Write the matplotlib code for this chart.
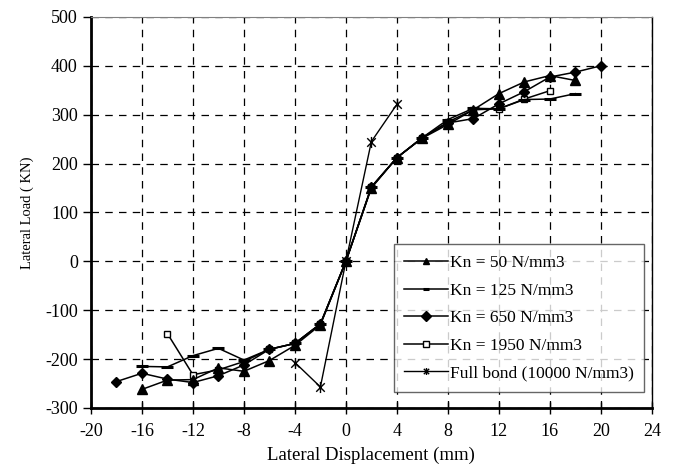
import numpy as np
import matplotlib
matplotlib.use("Agg")
import matplotlib.pyplot as plt
from matplotlib.path import Path

plt.rcParams['font.family'] = ['Liberation Serif', 'DejaVu Serif']
plt.rcParams['axes.unicode_minus'] = False

# data
x50 = [-16, -14, -12, -10, -8, -6, -4, -2, 0, 2, 4, 6, 8, 10, 12, 14, 16, 18]
y50 = [-262, -243, -242, -218, -225, -203, -172, -130, 0, 150, 212, 252, 280, 310, 343, 367, 380, 370]

x125 = [-16, -14, -12, -10, -8, -6, -4, -2, 0, 2, 4, 6, 8, 10, 12, 14, 16, 18]
y125 = [-215, -216, -193, -178, -202, -180, -168, -128, 0, 152, 212, 253, 290, 313, 312, 331, 332, 343]

x650 = [-18, -16, -14, -12, -10, -8, -6, -4, -2, 0, 2, 4, 6, 8, 10, 12, 14, 16, 18, 20]
y650 = [-246, -229, -241, -248, -234, -212, -180, -168, -128, 0, 152, 212, 253, 283, 292, 322, 347, 377, 387, 400]

x1950 = [-14, -12, -10, -8, -6, -4, -2, 0, 2, 4, 6, 8, 10, 12, 14, 16]
y1950 = [-148, -232, -222, -205, -180, -168, -128, 0, 152, 212, 253, 285, 310, 312, 332, 349]

xfull = [-4, -2, 0, 2, 4]
yfull = [-207, -257, 0, 245, 321]

# star marker: x with a vertical bar
star = Path([(-1, -1), (1, 1), (-1, 1), (1, -1), (0, -1.3), (0, 1.3)],
            [Path.MOVETO, Path.LINETO, Path.MOVETO, Path.LINETO, Path.MOVETO, Path.LINETO])

fig = plt.figure(figsize=(6.74, 4.70), dpi=100)
ax = fig.add_axes([0.135, 0.132, 0.832, 0.832])

lw = 1.1
ax.plot(x50, y50, color='black', lw=lw, marker='^', ms=7, zorder=2.5, label='Kn = 50 N/mm3')
ax.plot(x125, y125, color='black', lw=lw, marker='_', ms=8, mew=2.2, zorder=2.4, label='Kn = 125 N/mm3')
ax.plot(x650, y650, color='black', lw=lw, marker='D', ms=5.5, zorder=2.3, label='Kn = 650 N/mm3')
ax.plot(x1950, y1950, color='black', lw=lw, marker='s', ms=4, mfc='white', mew=1, zorder=2.2, label='Kn = 1950 N/mm3')
ax.plot(xfull, yfull, color='black', lw=1.0, marker=star, ms=8, mew=1, zorder=2.1, label='Full bond (10000 N/mm3)')

ax.set_xlim(-20, 24)
ax.set_ylim(-300, 500)
ax.set_xticks(np.arange(-20, 25, 4))
ax.set_yticks(np.arange(-300, 501, 100))
ax.grid(True, color='black', linestyle=(0, (6, 5)), lw=0.9)

ax.spines['top'].set_color('#808080')
ax.spines['top'].set_linewidth(0.8)
ax.spines['right'].set_linewidth(1.0)
for s in ['left', 'bottom']:
    ax.spines[s].set_linewidth(2)
ax.tick_params(axis='x', direction='inout', length=9, width=1, labelsize=13, pad=6)
ax.tick_params(axis='y', direction='out', length=6, width=1, labelsize=13)

ax.set_xlabel('Lateral Displacement (mm)', fontsize=13.5, labelpad=5)
ax.set_ylabel('Lateral Load ( KN)', fontsize=10.5, labelpad=8)

leg = ax.legend(loc='lower right', bbox_to_anchor=(0.986, 0.041), fontsize=12.5,
                frameon=True, fancybox=False, edgecolor='#404040',
                handlelength=2.5, handletextpad=0.1, labelspacing=0.66,
                borderpad=0.6, borderaxespad=0)
leg.get_frame().set_linewidth(1)
for h in leg.legend_handles:
    h.set_markersize(5)

fig.savefig('out.png', dpi=100)
